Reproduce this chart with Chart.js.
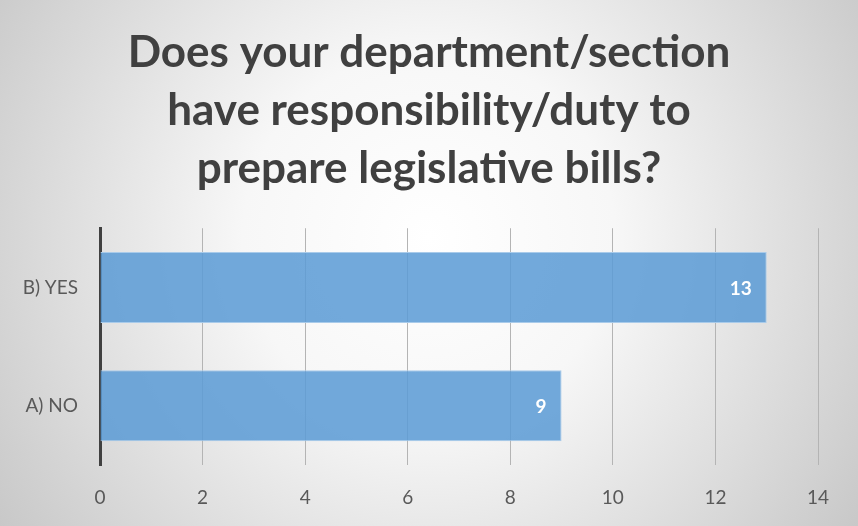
<!DOCTYPE html>
<html lang="en">
<head>
    <meta charset="UTF-8">
    <title>Legislative bills</title>
    <style>
        html, body { margin: 0; padding: 0; background: #ffffff; }
        canvas { display: block; }
    </style>
    <script src="https://cdn.jsdelivr.net/npm/chart.js"></script>
</head>
<body>
    <canvas id="grafico" width="858" height="526"></canvas>

    <script>
        // data
        const categorie = ["B) YES", "A) NO"];
        const valori = [13, 9];
        const titolo = ["Does your department/section", "have responsibility/duty to", "prepare legislative bills?"];
        const xMin = 0, xMax = 14, xStep = 2;

        const FONT = "Lato, 'Open Sans', sans-serif";

        // grey radial background like the slide
        const sfondo = {
            id: "sfondo",
            beforeDraw(chart) {
                const ctx = chart.ctx;
                const w = chart.width, h = chart.height;
                const g = ctx.createRadialGradient(w * 0.5, h * 0.45, 0, w * 0.5, h * 0.45, w * 0.62);
                g.addColorStop(0, "#ffffff");
                g.addColorStop(0.35, "#f7f7f7");
                g.addColorStop(1, "#c6c6c6");
                ctx.save();
                ctx.fillStyle = g;
                ctx.fillRect(0, 0, w, h);
                ctx.restore();
            }
        };

        // centre the title on the whole canvas, not on the padded box
        const titoloCentrato = {
            id: "titoloCentrato",
            afterLayout(chart) {
                const t = chart.titleBlock;
                if (t) {
                    t.left = 0;
                    t.right = chart.width;
                    t.width = chart.width;
                }
            }
        };

        // white values at the end of each bar
        const etichette = {
            id: "etichette",
            afterDatasetsDraw(chart) {
                const ctx = chart.ctx;
                const meta = chart.getDatasetMeta(0);
                ctx.save();
                ctx.fillStyle = "#ffffff";
                ctx.font = "bold 19px " + FONT;
                ctx.textAlign = "right";
                ctx.textBaseline = "middle";
                meta.data.forEach((bar, i) => {
                    ctx.fillText(String(valori[i]), bar.x - 15, bar.y + 1);
                });
                ctx.restore();
            }
        };

        new Chart(document.getElementById("grafico").getContext("2d"), {
            type: "bar",
            data: {
                labels: categorie,
                datasets: [{
                    data: valori,
                    backgroundColor: "rgba(91, 155, 213, 0.86)",
                    borderColor: "#a9cbea",
                    borderWidth: 1,
                    barPercentage: 0.6,
                    categoryPercentage: 1.0
                }]
            },
            options: {
                indexAxis: "y",
                responsive: false,
                animation: false,
                layout: { padding: { left: 0, right: 40, top: 0, bottom: 0 } },
                plugins: {
                    legend: { display: false },
                    tooltip: { enabled: false },
                    title: {
                        display: true,
                        text: titolo,
                        color: "#404040",
                        font: { family: FONT, size: 44, weight: "bold", lineHeight: 1.32 },
                        padding: { top: 24, bottom: 30 }
                    }
                },
                scales: {
                    x: {
                        min: xMin,
                        max: xMax,
                        ticks: {
                            stepSize: xStep,
                            color: "#595959",
                            font: { family: FONT, size: 19 },
                            padding: 21
                        },
                        grid: { color: "#b4b4b4", lineWidth: 1, drawTicks: false },
                        border: { display: false },
                        afterFit(scale) { scale.height = 61; }
                    },
                    y: {
                        ticks: {
                            color: "#595959",
                            font: { family: FONT, size: 19 },
                            padding: 22
                        },
                        grid: { display: false, drawTicks: false },
                        border: { display: true, color: "#404040", width: 3 },
                        afterFit(scale) { scale.width = 100; }
                    }
                }
            },
            plugins: [sfondo, titoloCentrato, etichette]
        });
    </script>
</body>
</html>
